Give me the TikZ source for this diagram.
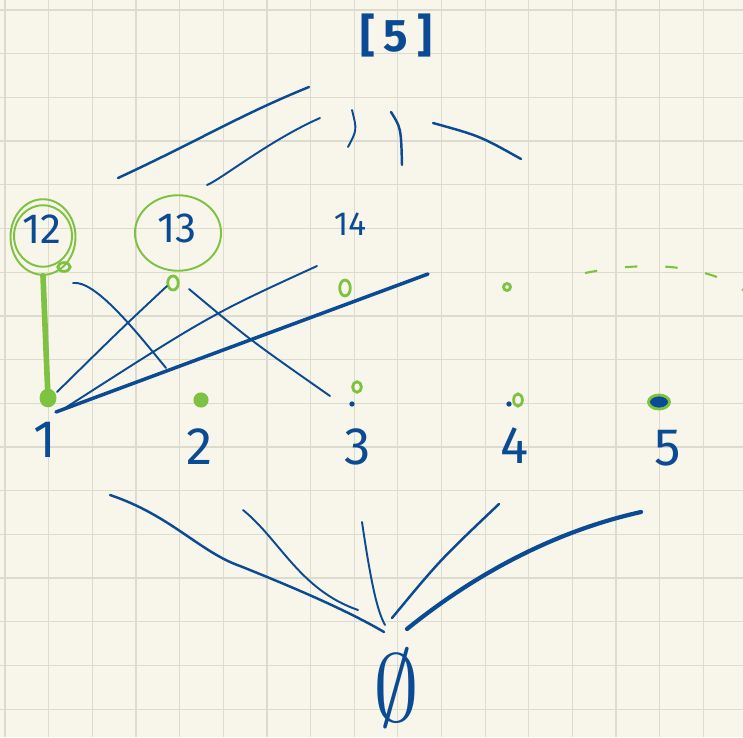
\documentclass[tikz,border=0pt]{standalone}
\usepackage{fontspec}
\setmainfont{Fira Sans}
\usetikzlibrary{positioning,shapes.geometric}
\definecolor{penblue}{HTML}{0B4B93}
\definecolor{pengreen}{HTML}{7DC241}
\definecolor{paper}{HTML}{F8F5EA}
\definecolor{gridline}{HTML}{DDDACE}
\newcommand{\hand}[1]{\fontsize{#1}{#1}\selectfont}

\begin{document}
\begin{tikzpicture}[
x=0.02cm, y=-0.02cm,
setlabel/.style={text=penblue, inner sep=0pt},
ring/.style={ellipse, draw=pengreen, line width=1.1pt, inner sep=0pt},
vertex/.style={ellipse, draw=pengreen, line width=1.6pt, inner sep=0pt},
pen/.style={penblue, line width=1.1pt, line cap=round},
heavypen/.style={penblue, line width=2.4pt, line cap=round},
greenpen/.style={pengreen, line width=3.2pt, line cap=round},
dashpen/.style={pengreen, line width=1.2pt, dash pattern=on 7pt off 16pt}
]
\useasboundingbox (0,0) rectangle (743,737);
\fill[paper] (0,0) rectangle (743,737);
\foreach \gx in {5,48.65,...,743} \draw[gridline, line width=0.7pt] (\gx,0) -- (\gx,737);
\foreach \gy in {10,53.7,...,737} \draw[gridline, line width=0.7pt] (0,\gy) -- (743,\gy);

\node[setlabel, font=\hand{26}\bfseries] (full) at (396,36) {[\hspace{5pt}5\hspace{5pt}]};
\node[setlabel, font=\hand{24}] (s12) at (42,229) {12};
\node[setlabel, font=\hand{24}] (s13) at (177,228) {13};
\node[setlabel, font=\hand{19}] (s14) at (350,224) {14};
\node[ring, minimum width=37pt, minimum height=43pt] (c12) at (43,237) {};
\node[ring, minimum width=33pt, minimum height=35pt] (c12b) at (43,236) {};
\node[ring, minimum width=49pt, minimum height=43pt] (c13) at (178,233) {};

\node[vertex, minimum width=7pt, minimum height=5pt] (u12) at (64,267) {};
\node[vertex, minimum width=6pt, minimum height=8pt] (u13) at (173,283) {};
\node[vertex, minimum width=6pt, minimum height=9pt] (u14) at (345,288) {};
\node[vertex, minimum width=4pt, minimum height=4pt] (u15) at (507,287) {};

\node[vertex, fill=pengreen, minimum width=8pt, minimum height=9pt] (d1) at (48,398) {};
\node[vertex, fill=pengreen, minimum width=7pt, minimum height=7pt] (d2) at (201,400) {};
\node[vertex, minimum width=5pt, minimum height=6pt] (d3) at (357,387) {};
\node[vertex, minimum width=5pt, minimum height=7pt] (d4) at (518,400) {};
\node[vertex, fill=penblue, minimum width=12pt, minimum height=8pt] (d5) at (659,402) {};
\node[circle, fill=penblue, inner sep=0pt, minimum size=3pt] (b3) at (352,404) {};
\node[circle, fill=penblue, inner sep=0pt, minimum size=3pt] (b4) at (509,404) {};

\node[setlabel, font=\hand{30}] (n1) at (45,440) {1};
\node[setlabel, font=\hand{30}] (n2) at (200,447) {2};
\node[setlabel, font=\hand{30}] (n3) at (358,447) {3};
\node[setlabel, font=\hand{30}] (n4) at (515,446) {4};
\node[setlabel, font=\hand{30}] (n5) at (668,448) {5};
\node[setlabel] (empty) at (396,688) {\scalebox{2.1}[2.2]{\hand{34}$\emptyset$}};

\coordinate (t1a) at (118,178); \coordinate (t1b) at (309,87);
\coordinate (t2a) at (207,185); \coordinate (t2b) at (320,118);
\coordinate (t3a) at (348,147); \coordinate (t3b) at (352,110);
\coordinate (t4a) at (391,112); \coordinate (t4b) at (402,165);
\coordinate (t5a) at (433,123); \coordinate (t5b) at (521,159);
\draw[pen, line width=1.4pt] (t1a) .. controls (200,140) and (240,115) .. (t1b);
\draw[pen] (t2a) .. controls (220,180) and (270,140) .. (t2b);
\draw[pen] (t3a) .. controls (357,130) .. (t3b);
\draw[pen, line width=1.4pt] (t4a) .. controls (401,128) .. (t4b);
\draw[pen, line width=1.4pt] (t5a) .. controls (480,136) .. (t5b);

\coordinate (m1a) at (73,283); \coordinate (m1b) at (166,368);
\coordinate (m2a) at (167,286); \coordinate (m2b) at (57,392);
\coordinate (m3a) at (189,289); \coordinate (m3b) at (330,396);
\coordinate (m4a) at (317,266); \coordinate (m4b) at (62,410);
\coordinate (m5a) at (428,274); \coordinate (m5b) at (56,412);
\draw[pen] (m1a) .. controls (95,280) and (135,330) .. (m1b);
\draw[pen] (m2a) .. controls (120,330) .. (m2b);
\draw[pen] (m3a) .. controls (250,340) .. (m3b);
\draw[pen] (m4a) .. controls (210,315) .. (m4b);
\draw[heavypen, line width=2pt] (m5a) -- (m5b);
\draw[greenpen] (c12.south) -- (d1);
\draw[dashpen] (585,273) .. controls (640,262) and (700,262) .. (743,290);

\coordinate (f1a) at (110,495); \coordinate (f1b) at (384,632);
\coordinate (f2a) at (243,510); \coordinate (f2b) at (358,610);
\coordinate (f3a) at (362,522); \coordinate (f3b) at (385,625);
\coordinate (f4a) at (499,504); \coordinate (f4b) at (392,618);
\coordinate (f5a) at (641,512); \coordinate (f5b) at (407,629);
\draw[pen, line width=1.4pt] (f1a) .. controls (170,515) and (200,552) .. (240,566) .. controls (300,590) and (350,612) .. (f1b);
\draw[pen] (f2a) .. controls (280,540) and (300,590) .. (f2b);
\draw[pen] (f3a) .. controls (372,590) and (378,612) .. (f3b);
\draw[pen, line width=1.4pt] (f4a) .. controls (440,560) .. (f4b);
\draw[heavypen] (f5a) .. controls (560,530) and (480,570) .. (f5b);
\end{tikzpicture}
\end{document}
